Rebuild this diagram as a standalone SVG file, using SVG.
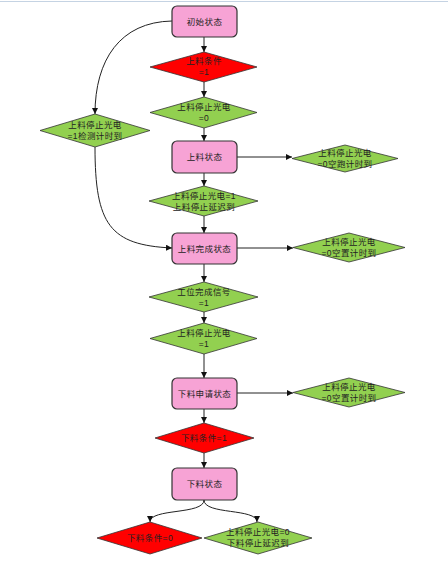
<svg xmlns="http://www.w3.org/2000/svg" width="448" height="567" viewBox="0 0 448 567">
<style>
.box{fill:#f7a3d5;stroke:#333;stroke-width:1.2}
.red{fill:#f00;stroke:#333;stroke-width:0.8}
.grn{fill:#92d050;stroke:#333;stroke-width:0.8}
text{font-family:"Liberation Sans","Noto Sans CJK SC",sans-serif;font-size:8.5px;letter-spacing:0.4px;fill:#222;text-anchor:middle}
.c{fill:none;stroke:#222;stroke-width:1;marker-end:url(#a)}
</style>
<defs>
<marker id="a" viewBox="0 0 10 10" refX="10" refY="5" markerWidth="6" markerHeight="6" markerUnits="userSpaceOnUse" orient="auto">
<path d="M0,0L10,5L0,10z" fill="#111"/>
</marker>
</defs>
<rect width="448" height="567" fill="#fff"/>
<line x1="0" y1="1.5" x2="448" y2="1.5" stroke="#c5d3e3" stroke-width="1"/>
<g id="connectors">
<path class="c" d="M204,37V52"/>
<path class="c" d="M204,82V97"/>
<path class="c" d="M204,128V141"/>
<path class="c" d="M204,173V186"/>
<path class="c" d="M204,216V233"/>
<path class="c" d="M204,264V282"/>
<path class="c" d="M204,312V323"/>
<path class="c" d="M204,354V378"/>
<path class="c" d="M204,409V423"/>
<path class="c" d="M204,453V468"/>
<path class="c" d="M172,21C120,22 95,60 95,114"/>
<path class="c" d="M95,147C95,225 110,245 172,248"/>
<path class="c" d="M237,157H292"/>
<path class="c" d="M237,248H293"/>
<path class="c" d="M237,393H293"/>
<path class="c" d="M204,500C204,515 150,508 150,522"/>
<path class="c" d="M204,500C204,515 257,508 257,522"/>
</g>
<g id="n1"><rect class="box" x="172" y="6" width="65" height="31" rx="5"/><text x="204.5" y="24.5">初始状态</text></g>
<g id="n2"><path class="red" d="M204,52L257,67L204,82L150,67z"/><text x="204" y="64">上料条件</text><text x="204" y="74.5">=1</text></g>
<g id="n3"><path class="grn" d="M204,97L257,112.5L204,128L150,112.5z"/><text x="204" y="110">上料停止光电</text><text x="204" y="120.5">=0</text></g>
<g id="n4"><path class="grn" d="M95,114L150,130.5L95,147L40,130.5z"/><text x="95" y="128">上料停止光电</text><text x="95" y="138.5">=1检测计时到</text></g>
<g id="n5"><rect class="box" x="172" y="141" width="65" height="32" rx="5"/><text x="204.5" y="160">上料状态</text></g>
<g id="n6"><path class="grn" d="M345,145L398,158.5L345,172L292,158.5z"/><text x="345" y="156">上料停止光电</text><text x="345" y="166.5">=0空跑计时到</text></g>
<g id="n7"><path class="grn" d="M204,186L258,201L204,216L149,201z"/><text x="204" y="199">上料停止光电=1</text><text x="204" y="209.5">上料停止延迟到</text></g>
<g id="n8"><rect class="box" x="172" y="233" width="65" height="31" rx="5"/><text x="204.5" y="251.5">上料完成状态</text></g>
<g id="n9"><path class="grn" d="M349,233L405,247.5L349,262L293,247.5z"/><text x="349" y="245">上料停止光电</text><text x="349" y="255.5">=0空置计时到</text></g>
<g id="n10"><path class="grn" d="M204,282L258,297L204,312L149,297z"/><text x="204" y="295">工位完成信号</text><text x="204" y="305.5">=1</text></g>
<g id="n11"><path class="grn" d="M204,323L257,338.5L204,354L150,338.5z"/><text x="204" y="336">上料停止光电</text><text x="204" y="346.5">=1</text></g>
<g id="n12"><rect class="box" x="172" y="378" width="65" height="31" rx="5"/><text x="204.5" y="396.5">下料申请状态</text></g>
<g id="n13"><path class="grn" d="M349,378L405,392.5L349,407L293,392.5z"/><text x="349" y="390">上料停止光电</text><text x="349" y="400.5">=0空置计时到</text></g>
<g id="n14"><path class="red" d="M204,423L254,438L204,453L155,438z"/><text x="204" y="441">下料条件=1</text></g>
<g id="n15"><rect class="box" x="172" y="468" width="65" height="32" rx="5"/><text x="204.5" y="487">下料状态</text></g>
<g id="n16"><path class="red" d="M150,522L202,538L150,554L97,538z"/><text x="150" y="541">下料条件=0</text></g>
<g id="n17"><path class="grn" d="M258,522L312,538L258,554L204,538z"/><text x="258" y="535">上料停止光电=0</text><text x="258" y="545.5">下料停止延迟到</text></g>
</svg>
